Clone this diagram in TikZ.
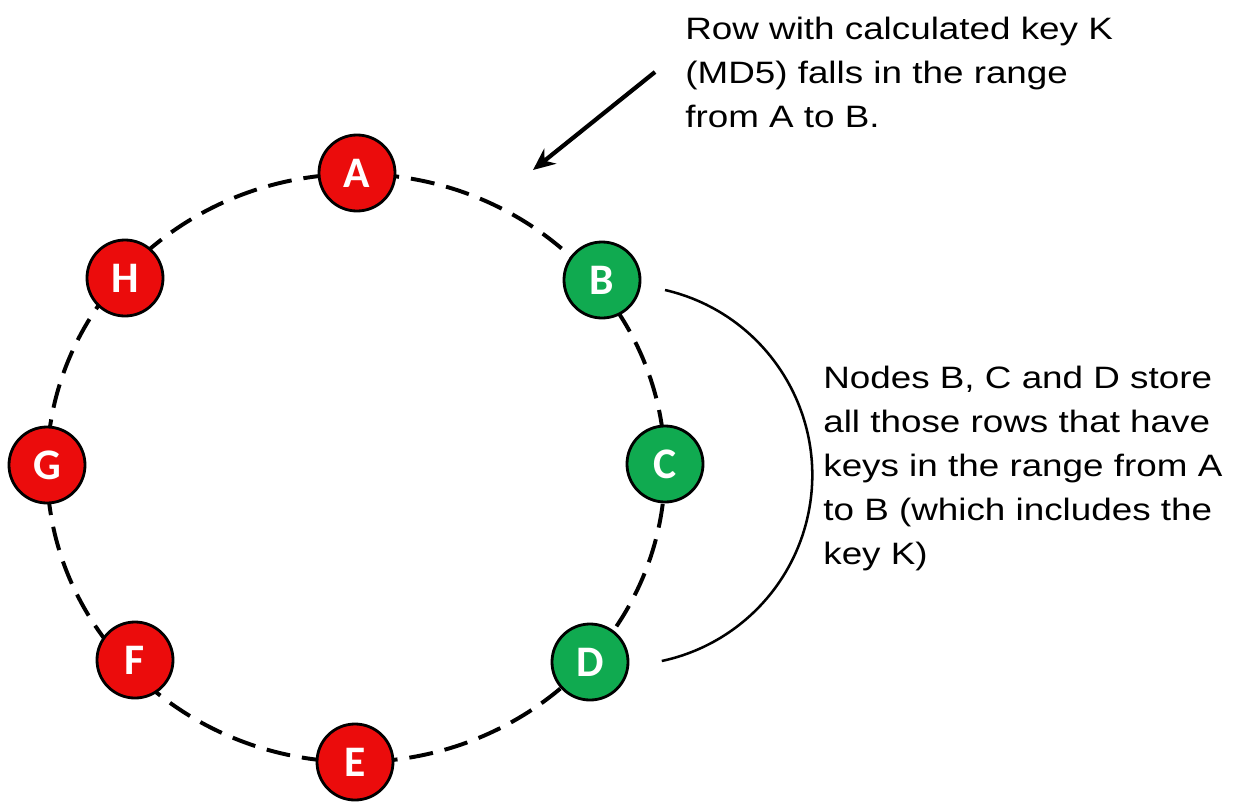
\documentclass[tikz,border=0pt]{standalone}
\usepackage{fontspec}
\setmainfont{Liberation Sans}
\newfontfamily\ringfont{Carlito}
\usetikzlibrary{arrows.meta}
\definecolor{ringred}{RGB}{235,12,12}
\definecolor{ringgreen}{RGB}{16,170,80}

\begin{document}
\begin{tikzpicture}[x=0.025cm,y=-0.025cm,
  ringnode/.style={circle,draw=black,line width=2pt,minimum size=1.9cm,inner sep=0pt,
    font=\ringfont\bfseries\fontsize{31}{31}\selectfont,text=white},
  rednode/.style={ringnode,fill=ringred},
  greennode/.style={ringnode,fill=ringgreen},
  note/.style={anchor=north west,inner sep=0pt,align=left,xscale=1.19,
    font=\fontsize{22}{31.3}\selectfont}]
  \useasboundingbox (0,0) rectangle (1240,802);
  % Ring
  \coordinate (ring) at (356,468);
  \draw[line width=2.8pt,dash pattern=on 0.6cm off 0.3cm] (ring) ellipse [x radius=309, y radius=294];
  % Nodes on the ring
  \node[rednode] (A) at (357,173) {A};
  \node[greennode] (B) at (602,280) {B};
  \node[greennode] (C) at (665,464) {C};
  \node[greennode] (D) at (590,662) {D};
  \node[rednode] (E) at (355,762) {E};
  \node[rednode] (F) at (135,660) {F};
  \node[rednode] (G) at (47,465) {G};
  \node[rednode] (H) at (125,278) {H};
  % Arrow into the range A-B
  \coordinate (kFrom) at (655,72);
  \coordinate (kTo) at (533,170);
  \draw[-{Stealth[length=0.55cm,width=0.48cm]},line width=3pt] (kFrom) -- (kTo);
  % Arc over B, C, D
  \coordinate (arcTop) at (665,290);
  \draw[line width=1.8pt] (arcTop) arc[start angle=-77, end angle=78, radius=190];
  % Notes
  \node[note] (rowNote) at (685,17) {Row with calculated key K\\(MD5) falls in the range\\from A to B.};
  \node[note] (storeNote) at (823,366) {Nodes B, C and D store\\all those rows that have\\keys in the range from A\\to B (which includes the\\key K)};
\end{tikzpicture}
\end{document}
